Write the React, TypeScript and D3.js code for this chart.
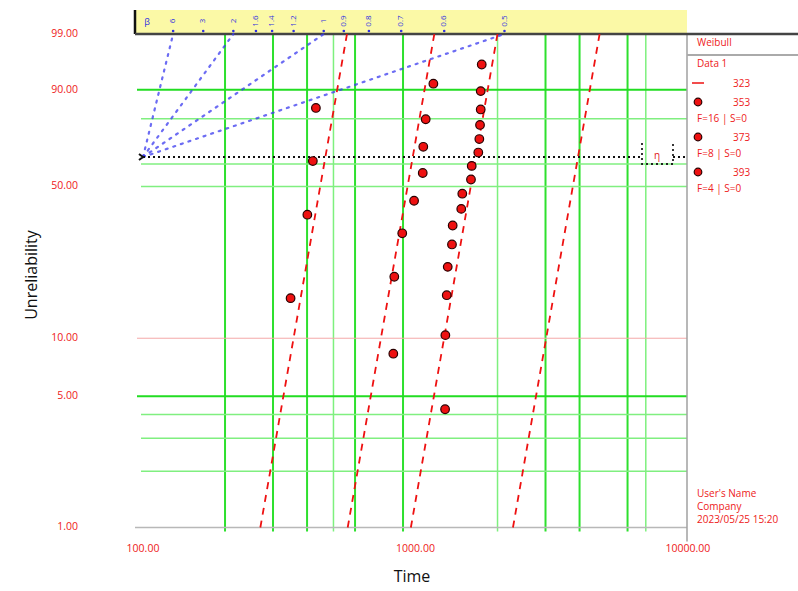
import * as d3 from "d3";

// ---- data ----
const xTicks = [100, 1000, 10000];
const yTicks = [1, 5, 10, 50, 90, 99];
const gridTimes = [200, 300, 400, 600, 900, 3000, 4000, 6000];
const gridTimesFaint = [500, 2000, 7000];
const gridUnrel = [90, 5];
const gridUnrelFaint = [80, 60, 50, 4, 3, 2];
const gridUnrelPink = [10];

const set16Times = [1284, 1287, 1302, 1313, 1361, 1369, 1472, 1485, 1598, 1608, 1700, 1715, 1725, 1735, 1735, 1750];
const set16Unrel = [4.27, 10.37, 16.46, 22.56, 28.66, 34.76, 40.85, 46.95, 53.05, 59.15, 65.24, 71.34, 77.44, 83.54, 89.63, 95.73];
const set8Times = [829, 836, 894, 988, 1063, 1068, 1090, 1163];
const set8Unrel = [8.33, 20.24, 32.14, 44.05, 55.95, 67.86, 79.76, 91.67];
const set4Times = [348, 401, 420, 431];
const set4Unrel = [15.91, 38.64, 61.36, 84.09];

const fitBeta = 8.37;
const fitEtas = [3948, 1666, 977, 467];

const betaScale = [6, 3, 2, 1.6, 1.4, 1.2, 1, 0.9, 0.8, 0.7, 0.6, 0.5];
const betaLines = [6, 2, 1, 0.5];
const pivotTime = 100;

const legendTitle = "Weibull";
const legendSub = "Data 1";
const legendLine = "323";
const legendSets = [
  { name: "353", info: "F=16 | S=0" },
  { name: "373", info: "F=8 | S=0" },
  { name: "393", info: "F=4 | S=0" },
];
const footer = ["User's Name", "Company", "2023/05/25 15:20"];

const W = 798;
const H = 591;
const FONT = "'Open Sans', 'DejaVu Sans', sans-serif";

const wb = (p: number) => Math.log(-Math.log(1 - p / 100));

export default function App() {
  const x = d3.scaleLog().domain([100, 10000]).range([143, 688]);
  const y = d3.scaleLinear().domain([wb(1), wb(99)]).range([527.5, 34]);
  const top = y(wb(99));
  const bottom = y(wb(1));
  const left = 135;
  const right = 687;

  const pts = [
    ...set16Times.map((t, i) => [t, set16Unrel[i]]),
    ...set8Times.map((t, i) => [t, set8Unrel[i]]),
    ...set4Times.map((t, i) => [t, set4Unrel[i]]),
  ];

  // Weibull line t(F) = eta * (-ln(1-F))^(1/beta)
  const tAt = (eta: number, beta: number, p: number) =>
    eta * Math.pow(-Math.log(1 - p / 100), 1 / beta);

  const pivotY = y(0);
  const pivotX = x(pivotTime);

  return (
    <svg width={W} height={H} style={{ position: "fixed", left: 0, top: 0, background: "#fff" }} fontFamily={FONT}>
      {/* beta scale band */}
      <rect x={left} y={10} width={right - left} height={top - 10} fill="#fbf9a6" />

      {/* grid */}
      {gridTimes.map((t) => (
        <line key={"gv" + t} x1={x(t)} x2={x(t)} y1={top} y2={bottom + 4} stroke="#2ee02e" strokeWidth={2} />
      ))}
      {gridTimesFaint.map((t) => (
        <line key={"gf" + t} x1={x(t)} x2={x(t)} y1={top} y2={bottom + 4} stroke="#7ef07e" strokeWidth={1.5} />
      ))}
      {gridUnrelFaint.map((p) => (
        <line key={"hf" + p} x1={141} x2={right} y1={y(wb(p))} y2={y(wb(p))} stroke="#80ef80" strokeWidth={1.5} />
      ))}
      {gridUnrel.map((p) => (
        <line key={"hg" + p} x1={137} x2={right} y1={y(wb(p))} y2={y(wb(p))} stroke="#22dd22" strokeWidth={2} />
      ))}
      {gridUnrelPink.map((p) => (
        <line key={"hp" + p} x1={137} x2={right} y1={y(wb(p))} y2={y(wb(p))} stroke="#f4a8a8" strokeWidth={1} />
      ))}

      {/* axes frame */}
      <line x1={left} x2={right} y1={bottom} y2={bottom} stroke="#b8b8b8" strokeWidth={1.5} />
      <line x1={right} x2={right} y1={top} y2={bottom + 14} stroke="#a0a0a0" strokeWidth={1.5} />
      <line x1={left} x2={left} y1={10} y2={top} stroke="#111" strokeWidth={2.5} />
      <line x1={left} x2={W} y1={top} y2={top} stroke="#444" strokeWidth={2.5} />
      <line x1={right} x2={W} y1={55} y2={55} stroke="#aaa" strokeWidth={2} />

      {/* beta lines from the pivot */}
      {betaLines.map((b) => {
        const tTop = tAt(pivotTime, b, 99);
        return (
          <line key={"bl" + b} x1={pivotX} y1={pivotY} x2={x(tTop)} y2={y(wb(99))}
            stroke="#3b3bf0" strokeWidth={2.2} strokeDasharray="2 6" strokeLinecap="round" opacity={0.75} />
        );
      })}
      {betaScale.map((b) => {
        const bx = x(tAt(pivotTime, b, 99));
        return (
          <g key={"bs" + b}>
            <text x={bx} y={21} fontSize={8} fill="#3030e0" textAnchor="middle"
              transform={`rotate(-90, ${bx}, 21)`} dominantBaseline="middle">{b}</text>
            <circle cx={bx} cy={top - 3} r={1.3} fill="#3030e0" />
          </g>
        );
      })}
      <text x={147} y={25} fontSize={9} fill="#3030e0" textAnchor="middle">β</text>

      {/* 63.2% line and eta marker */}
      <line x1={pivotX} x2={642} y1={pivotY} y2={pivotY} stroke="#111" strokeWidth={2} strokeDasharray="2 3" />
      <line x1={673} x2={right} y1={pivotY} y2={pivotY} stroke="#111" strokeWidth={2} strokeDasharray="2 3" />
      <path d={`M642,143 L642,164 L673,164 L673,143`} fill="none" stroke="#222" strokeWidth={1.8} strokeDasharray="2 3" />
      <text x={657} y={159} fontSize={10} fill="#e02020" textAnchor="middle">η</text>
      <path d={`M${pivotX - 4},${pivotY - 3} l4,3 l-4,3`} fill="none" stroke="#111" strokeWidth={2} />

      {/* fitted lines */}
      {fitEtas.map((eta) => (
        <line key={"fl" + eta}
          x1={x(tAt(eta, fitBeta, 1))} y1={y(wb(1))}
          x2={x(tAt(eta, fitBeta, 99))} y2={y(wb(99))}
          stroke="#ee1111" strokeWidth={1.8} strokeDasharray="7 6" />
      ))}

      {/* points */}
      {pts.map(([t, p], i) => (
        <circle key={"pt" + i} cx={x(t)} cy={y(wb(p))} r={4.3} fill="#ee1111" stroke="#2a0000" strokeWidth={1.2} />
      ))}

      {/* y axis labels */}
      {yTicks.map((p) => (
        <text key={"yt" + p} x={78} y={y(wb(p))} fontSize={10.5} fill="#ee2020" textAnchor="end" dominantBaseline="middle">
          {p.toFixed(2)}
        </text>
      ))}
      <text transform={`translate(33, 275) rotate(-90)`} fontSize={16} fill="#111" textAnchor="middle" dominantBaseline="middle">
        Unreliability
      </text>

      {/* x axis labels */}
      {xTicks.map((t) => (
        <text key={"xt" + t} x={x(t)} y={549} fontSize={10.5} fill="#ee2020" textAnchor="middle" dominantBaseline="middle">
          {t.toFixed(2)}
        </text>
      ))}
      <text x={412} y={578} fontSize={16} fill="#111" textAnchor="middle" dominantBaseline="middle">Time</text>

      {/* legend */}
      <text x={697} y={46} fontSize={10} fill="#ee2020">{legendTitle}</text>
      <text x={697} y={67} fontSize={10} fill="#ee2020">{legendSub}</text>
      <line x1={692} x2={704} y1={83} y2={83} stroke="#ee1111" strokeWidth={1.5} />
      <text x={733} y={87} fontSize={10} fill="#ee2020">{legendLine}</text>
      {legendSets.map((s, i) => (
        <g key={"lg" + i}>
          <circle cx={698} cy={102 + i * 35} r={3.8} fill="#ee1111" stroke="#2a0000" strokeWidth={1.2} />
          <text x={733} y={106 + i * 35} fontSize={10} fill="#ee2020">{s.name}</text>
          <text x={697} y={122 + i * 35} fontSize={10} fill="#ee2020">{s.info}</text>
        </g>
      ))}
      {footer.map((f, i) => (
        <text key={"ft" + i} x={697} y={497 + i * 13} fontSize={10} fill="#ee2020">{f}</text>
      ))}
    </svg>
  );
}
